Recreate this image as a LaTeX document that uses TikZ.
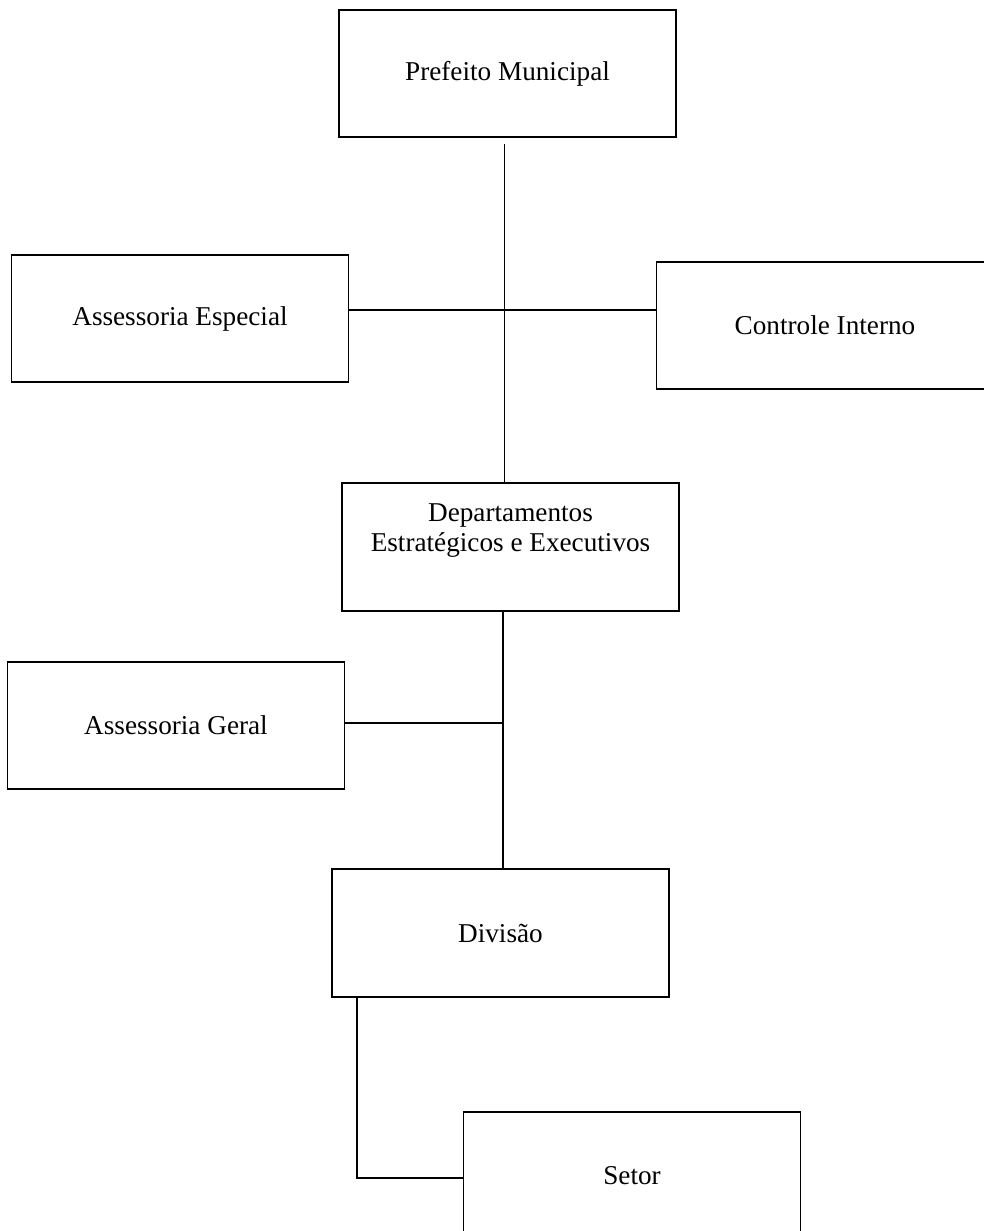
\documentclass[tikz,border=0pt]{standalone}
\usepackage{fontspec}
\setmainfont{Liberation Serif}
\begin{document}
\begin{tikzpicture}[x=1pt,y=-1pt,
  box/.style={draw, line width=1.8pt, rectangle, minimum width=337pt, minimum height=127pt, inner sep=0pt, align=center, font=\fontsize{27.2}{31}\selectfont},
  conn/.style={line width=1.8pt}]
\useasboundingbox (0,0) rectangle (984,1231);
\fill[white] (0,0) rectangle (984,1231);
\node[box] (pref) at (507.5,73.5) {Prefeito Municipal};
\node[box] (esp) at (180,318.5) {Assessoria Especial};
\node[box] (ctrl) at (825,325.5) {Controle Interno};
\node[box, minimum height=128pt] (dep) at (510.5,547) {};
\node[anchor=north, inner sep=0pt, align=center, font=\fontsize{27.2}{30}\selectfont] (deptext) at ([yshift=-21pt]dep.north) {Departamentos\\Estratégicos e Executivos};
\node[box] (ger) at (176,725.5) {Assessoria Geral};
\node[box, minimum height=128pt] (div) at (500.5,933) {Divisão};
\node[box] (set) at (632,1175.5) {Setor};
\coordinate (j1) at (504.5,310);
\coordinate (j2) at (503,723);
\coordinate (j3) at (357,1178);
\draw[conn] ([yshift=-6pt]pref.south -| j1) -- (dep.north -| j1);
\draw[conn] (esp.east |- j1) -- (ctrl.west |- j1);
\draw[conn] (dep.south -| j2) -- (div.north -| j2);
\draw[conn] (ger.east |- j2) -- (j2);
\draw[conn] (div.south -| j3) -- (j3) -- (set.west |- j3);
\end{tikzpicture}
\end{document}
